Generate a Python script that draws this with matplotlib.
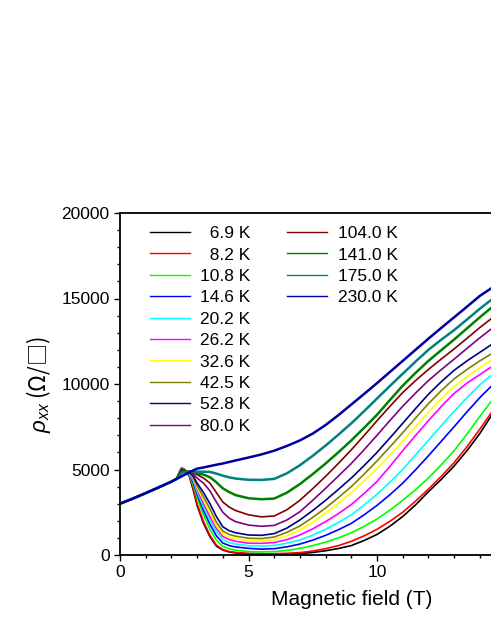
import matplotlib
matplotlib.use("Agg")
import matplotlib.pyplot as plt
from matplotlib.lines import Line2D

plt.rcParams['font.family'] = ['Liberation Sans', 'DejaVu Sans']
plt.rcParams['mathtext.fontset'] = 'custom'
plt.rcParams['mathtext.rm'] = 'Liberation Sans'
plt.rcParams['mathtext.it'] = 'Liberation Sans:italic'

# Magnetic field grid (T)
field = [0, 0.5, 1, 1.5, 2, 2.2, 2.3, 2.4, 2.5, 2.6, 2.7, 2.85, 3, 3.25, 3.5, 3.75, 4, 4.25,
         4.5, 5, 5.5, 6, 6.5, 7, 7.5, 8, 8.5, 9, 9.5, 10, 10.5, 11, 11.5, 12, 12.5, 13, 13.5,
         14, 14.6]

labels = ["  6.9 K", "  8.2 K", "10.8 K", "14.6 K", "20.2 K", "26.2 K", "32.6 K",
          "42.5 K", "52.8 K", "80.0 K", "104.0 K", "141.0 K", "175.0 K", "230.0 K"]
colors = ["#000000", "#ff0000", "#00ff00", "#0000ff", "#00ffff", "#ff00ff", "#ffff00",
          "#808000", "#000080", "#800080", "#800000", "#008000", "#008080", "#0000a0"]

low = [3000, 3300, 3620, 3950, 4290, 4450]  # common low-field part (0 .. 2.2 T)

rho_6p9 = low + [4800, 5100, 5000, 4850, 4600, 3800, 2900, 1850, 1070, 520, 290, 180,
                 120, 60, 40, 40, 50, 80, 150, 250, 380, 550, 850, 1200, 1680, 2250, 2930,
                 3700, 4420, 5200, 6100, 7100, 8500]
rho_8p2 = low + [4800, 5100, 5000, 4850, 4650, 3900, 3000, 1950, 1150, 580, 320, 200,
                 150, 100, 80, 80, 100, 140, 230, 370, 550, 800, 1120, 1500, 1970, 2500, 3150,
                 3850, 4600, 5400, 6330, 7350, 8650]
rho_10p8 = low + [4800, 5100, 5000, 4870, 4700, 4100, 3350, 2350, 1500, 870, 500, 360,
                  280, 200, 180, 200, 270, 390, 550, 750, 1000, 1300, 1680, 2100, 2620, 3200,
                  3820, 4500, 5270, 6100, 7070, 8100, 9300]
rho_14p6 = low + [4800, 5100, 5000, 4880, 4720, 4250, 3550, 2600, 1800, 1120, 700, 550,
                  470, 390, 340, 370, 480, 640, 870, 1150, 1480, 1850, 2350, 2900, 3520, 4200,
                  4980, 5800, 6650, 7500, 8370, 9200, 10100]
rho_20p2 = low + [4800, 5100, 5000, 4890, 4740, 4350, 3700, 2800, 2050, 1370, 900, 730,
                  640, 540, 520, 560, 690, 880, 1160, 1500, 1900, 2350, 2920, 3550, 4250, 5000,
                  5850, 6700, 7560, 8400, 9200, 9950, 10700]
rho_26p2 = low + [4780, 5080, 4990, 4890, 4760, 4430, 3850, 3000, 2250, 1560, 1080, 900,
                  800, 690, 680, 730, 900, 1170, 1530, 1950, 2420, 2950, 3600, 4300, 5180, 6100,
                  6990, 7850, 8680, 9450, 10050, 10550, 11150]
rho_32p6 = low + [4780, 5060, 4990, 4900, 4780, 4500, 3950, 3200, 2450, 1720, 1220, 1040,
                  950, 830, 820, 900, 1130, 1460, 1920, 2450, 3030, 3650, 4330, 5050, 5830, 6650,
                  7510, 8350, 9130, 9850, 10430, 10950, 11550]
rho_42p5 = low + [4760, 5050, 4980, 4900, 4800, 4550, 4050, 3400, 2700, 1920, 1400, 1200,
                  1100, 980, 960, 1050, 1330, 1700, 2200, 2750, 3360, 4000, 4730, 5500, 6310, 7150,
                  8010, 8850, 9610, 10300, 10850, 11350, 11900]
rho_52p8 = low + [4750, 5030, 4970, 4900, 4820, 4620, 4200, 3650, 3000, 2250, 1650, 1420,
                  1300, 1170, 1150, 1250, 1580, 2050, 2600, 3200, 3840, 4500, 5230, 6000, 6840, 7700,
                  8560, 9400, 10130, 10800, 11350, 11850, 12450]
rho_80p0 = low + [4720, 4980, 4950, 4900, 4850, 4720, 4500, 4200, 3750, 3100, 2500, 2150,
                  1950, 1750, 1680, 1730, 2050, 2530, 3200, 3900, 4620, 5350, 6160, 7000, 7860, 8700,
                  9470, 10200, 10840, 11450, 12080, 12700, 13400]
rho_104 = low + [4680, 4930, 4920, 4900, 4880, 4800, 4700, 4500, 4200, 3650, 3100, 2800,
                 2600, 2350, 2230, 2280, 2650, 3200, 3880, 4600, 5360, 6150, 6990, 7850, 8690, 9500,
                 10200, 10850, 11460, 12050, 12670, 13300, 14000]
rho_141 = low + [4650, 4850, 4870, 4880, 4880, 4840, 4780, 4700, 4550, 4250, 3900, 3680,
                 3500, 3320, 3260, 3300, 3650, 4150, 4730, 5350, 6010, 6700, 7440, 8200, 9060, 9900,
                 10650, 11350, 11980, 12600, 13250, 13900, 14650]
rho_175 = low + [4620, 4800, 4840, 4860, 4880, 4880, 4870, 4870, 4860, 4760, 4640, 4540,
                 4470, 4400, 4390, 4450, 4780, 5250, 5800, 6400, 7040, 7700, 8410, 9150, 9880, 10600,
                 11310, 12000, 12590, 13150, 13770, 14400, 15100]
rho_230 = low + [4520, 4600, 4680, 4760, 4830, 4950, 5050, 5120, 5200, 5280, 5350, 5440,
                 5530, 5700, 5880, 6100, 6380, 6700, 7100, 7600, 8180, 8800, 9420, 10050, 10700, 11350,
                 12000, 12650, 13280, 13900, 14520, 15150, 15750]

series = [rho_6p9, rho_8p2, rho_10p8, rho_14p6, rho_20p2, rho_26p2, rho_32p6,
          rho_42p5, rho_52p8, rho_80p0, rho_104, rho_141, rho_175, rho_230]
widths = [1.2] * 11 + [1.8, 1.8, 1.8]

fig = plt.figure(figsize=(4.91, 6.35), dpi=100)
ax = fig.add_axes([120 / 491, 1 - 555 / 635, 18 * 25.7 / 491, 342 / 635])

handles = []
for vals, lab, col, lw in zip(series, labels, colors, widths):
    h, = ax.plot(field, vals, color=col, lw=lw, label=lab)
    handles.append(h)

ax.set_xlim(0, 18)
ax.set_ylim(0, 20000)
ax.set_xticks([0, 5, 10, 15])
ax.set_xticklabels(["0", "5", "10", ""])
ax.set_xticks(range(0, 19), minor=True)
ax.set_yticks([0, 5000, 10000, 15000, 20000])
ax.set_yticks(range(0, 20001, 1000), minor=True)
for s in ax.spines.values():
    s.set_linewidth(1.3)
ax.tick_params(which='major', direction='out', length=4.5, width=1.0, labelsize=12.5, pad=3)
ax.tick_params(which='minor', direction='out', length=2.5, width=1.0)

ax.set_xlabel("Magnetic field (T)", fontsize=15, labelpad=7)
ax.set_ylabel(r"$\rho_{xx}$ (Ω/□)", fontsize=16, labelpad=6,
              family=['Noto Sans CJK SC', 'Liberation Sans'])

# legend: 10 entries in first column, 4 in second
leg_handles = []
leg_labels = []
for h, lab in zip(handles, labels):
    leg_handles.append(Line2D([], [], color=h.get_color(), lw=1.0))
    leg_labels.append(lab)
for _ in range(6):
    leg_handles.append(Line2D([], [], linestyle='none'))
    leg_labels.append("")
leg = ax.legend(leg_handles, leg_labels, ncol=2, loc='upper left',
                bbox_to_anchor=(0.065, 0.962), frameon=False,
                fontsize=12.5, handlelength=2.3, handletextpad=0.6, columnspacing=2.1,
                labelspacing=0.36, borderaxespad=0, borderpad=0)

fig.savefig("out.png", dpi=100)
